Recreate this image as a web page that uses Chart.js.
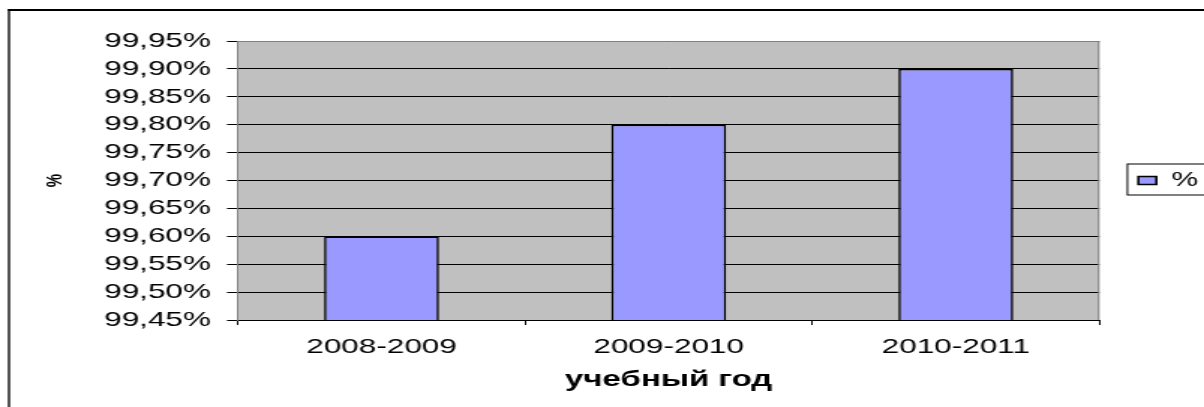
<!DOCTYPE html>
<html>
<head>
<meta charset="utf-8">
<script src="https://cdn.jsdelivr.net/npm/chart.js@4.4.0/dist/chart.umd.min.js"></script>
<style>
  html, body { margin: 0; padding: 0; background: #fff; }
  /* the original picture is stretched sideways ~1.5x, so the canvas is too */
  #chart { display: block; width: 1204px !important; height: 407px !important; }
</style>
</head>
<body>
<canvas id="chart" width="803" height="407" style="width:1204px;height:407px"></canvas>
<script>
var categories = ['2008-2009', '2009-2010', '2010-2011'];
var percentValues = [99.60, 99.80, 99.90];
var yTickValues = [99.45, 99.50, 99.55, 99.60, 99.65, 99.70, 99.75, 99.80, 99.85, 99.90, 99.95];
var seriesLabel = '%';
var xTitle = 'учебный год';
var yTitle = '%';

function fmtPercent(v) {
  return v.toFixed(2).replace('.', ',') + '%';
}

Chart.defaults.font.family = "'Liberation Sans', Arial, sans-serif";
Chart.defaults.color = '#000';

var framePlugin = {
  id: 'frame',
  beforeDraw: function(chart) {
    var ctx = chart.ctx, a = chart.chartArea;
    ctx.save();
    ctx.fillStyle = '#fff';
    ctx.fillRect(0, 0, chart.width, chart.height);
    // outer frame, only left and top are inside the picture
    ctx.fillStyle = '#000';
    ctx.fillRect(5.33, 9, 1.34, chart.height);
    ctx.fillRect(5.33, 9, chart.width, 2);
    ctx.fillStyle = '#c0c0c0';
    ctx.fillRect(a.left, a.top, a.right - a.left, a.bottom - a.top);
    ctx.restore();
  },
  beforeDatasetsDraw: function(chart) {
    var ctx = chart.ctx, a = chart.chartArea;
    ctx.save();
    ctx.strokeStyle = '#808080';
    ctx.lineWidth = 1;
    ctx.beginPath();
    ctx.moveTo(a.left, a.top + 0.5);
    ctx.lineTo(a.right, a.top + 0.5);
    ctx.moveTo(a.right - 0.5, a.top);
    ctx.lineTo(a.right - 0.5, a.bottom);
    ctx.stroke();
    ctx.restore();
  },
  afterDraw: function(chart) {
    var hb = chart.legend.legendHitBoxes[0];
    if (!hb) return;
    var ctx = chart.ctx;
    ctx.save();
    ctx.strokeStyle = '#000';
    ctx.lineWidth = 1;
    ctx.strokeRect(hb.left - 7.3, hb.top - 6.5, chart.width, 31);
    ctx.restore();
  }
};

new Chart(document.getElementById('chart'), {
  type: 'bar',
  data: {
    labels: categories,
    datasets: [{
      label: seriesLabel,
      data: percentValues,
      backgroundColor: '#9999ff',
      borderColor: '#000',
      borderWidth: 1.6,
      categoryPercentage: 1,
      barPercentage: 0.4
    }]
  },
  options: {
    responsive: false,
    animation: false,
    layout: { padding: { left: 8, top: 41, right: -6, bottom: 0 } },
    plugins: {
      tooltip: { enabled: false },
      legend: {
        position: 'right',
        fullSize: false,
        labels: {
          boxWidth: 12,
          boxHeight: 8,
          padding: 26,
          font: { size: 20 },
          color: '#000'
        }
      }
    },
    scales: {
      x: {
        grid: { drawOnChartArea: false, color: '#000', tickLength: 5 },
        border: { color: '#000', width: 1 },
        ticks: { font: { size: 21 }, padding: 10, maxRotation: 0 },
        title: {
          display: true,
          text: xTitle,
          font: { size: 22, weight: 'bold' },
          padding: { top: 0, bottom: 14 }
        },
        afterFit: function(scale) { scale.height = 87; }
      },
      y: {
        min: 99.45,
        max: 99.95,
        grid: { color: '#000', tickLength: 7.3 },
        border: { color: '#808080', width: 1 },
        ticks: {
          autoSkip: false,
          font: { size: 21 },
          padding: 10.7,
          callback: function(v) { return fmtPercent(v); }
        },
        afterBuildTicks: function(scale) {
          scale.ticks = yTickValues.map(function(v) { return { value: v }; });
        },
        title: {
          display: true,
          text: yTitle,
          font: { size: 15, weight: 'bold' },
          padding: { top: 20, bottom: 0 }
        },
        afterFit: function(scale) { scale.width = 150.7; }
      }
    }
  },
  plugins: [framePlugin]
});
</script>
</body>
</html>
